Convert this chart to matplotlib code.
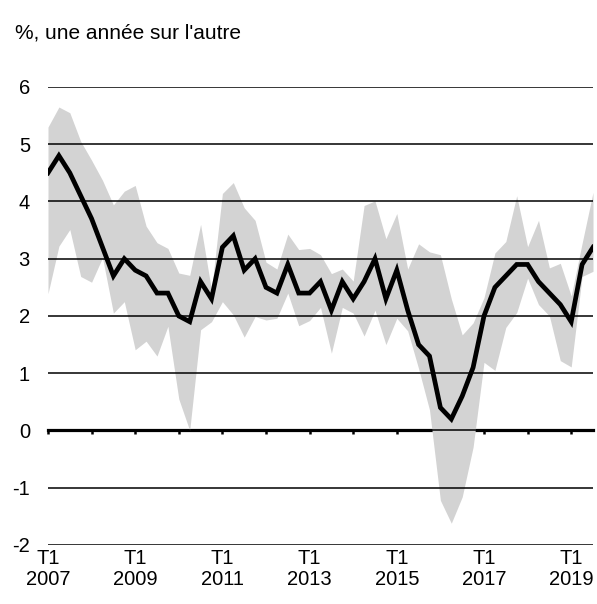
import matplotlib
matplotlib.use('Agg')
import matplotlib.pyplot as plt
import numpy as np

plt.rcParams['font.family'] = ['Liberation Sans', 'DejaVu Sans']
plt.rcParams['axes.unicode_minus'] = False

# quarterly, T1 2007 -> T3 2019, % une annee sur l'autre
inflation = [4.5, 4.8, 4.5, 4.1, 3.7, 3.2, 2.7, 3.0, 2.8, 2.7,
             2.4, 2.4, 2.0, 1.9, 2.6, 2.3, 3.2, 3.4, 2.8, 3.0,
             2.5, 2.4, 2.9, 2.4, 2.4, 2.6, 2.1, 2.6, 2.3, 2.6,
             3.0, 2.3, 2.8, 2.1, 1.5, 1.3, 0.4, 0.2, 0.6, 1.1,
             2.0, 2.5, 2.7, 2.9, 2.9, 2.6, 2.4, 2.2, 1.9, 2.9,
             3.2]

band_high = [5.3, 5.65, 5.55, 5.05, 4.72, 4.37, 3.94, 4.18, 4.28, 3.57,
             3.28, 3.18, 2.75, 2.71, 3.6, 2.45, 4.14, 4.33, 3.89, 3.67,
             2.94, 2.82, 3.43, 3.16, 3.18, 3.07, 2.74, 2.82, 2.61, 3.93,
             4.01, 3.35, 3.79, 2.82, 3.26, 3.12, 3.07, 2.3, 1.67, 1.88,
             2.32, 3.1, 3.3, 4.1, 3.21, 3.67, 2.84, 2.92, 2.35, 3.27,
             4.16]

band_low = [2.39, 3.22, 3.51, 2.69, 2.59, 3.02, 2.05, 2.25, 1.41, 1.56,
            1.30, 1.82, 0.55, 0.0, 1.76, 1.90, 2.25, 2.02, 1.63, 1.99,
            1.93, 1.96, 2.40, 1.83, 1.92, 2.15, 1.35, 2.15, 2.05, 1.65,
            2.10, 1.50, 1.96, 1.74, 1.08, 0.36, -1.22, -1.62, -1.16, -0.29,
            1.19, 1.05, 1.80, 2.06, 2.66, 2.20, 2.00, 1.22, 1.11, 2.69,
            2.78]

first_year = 2007
tick_years = list(range(2007, 2020))
label_years = [2007, 2009, 2011, 2013, 2015, 2017, 2019]

fig = plt.figure(figsize=(5.97, 6.04), dpi=100)
ax = fig.add_axes([0.0804, 0.0977, 0.9129, 0.7583])

x = np.arange(len(inflation))
ax.fill_between(x, band_low, band_high, color='#d3d3d3', lw=0, zorder=1)
ax.plot(x, inflation, color='black', lw=3.4, zorder=3, solid_joinstyle='miter')

ax.set_xlim(0, len(inflation) - 1)
ax.set_ylim(-2, 6)
ax.set_yticks(range(-2, 7))
ax.yaxis.grid(True, color='black', lw=1.1)
ax.set_axisbelow(False)
for s in ax.spines.values():
    s.set_visible(False)
ax.tick_params(axis='y', length=0, pad=13, labelsize=14.5)
ax.set_xticks([(y - first_year) * 4 for y in label_years])
ax.set_xticklabels(['T1\n%d' % y for y in label_years], linespacing=1.15)
ax.tick_params(axis='x', length=0, pad=3, labelsize=14.5)

# zero line with yearly ticks
zero = ax.secondary_xaxis(0, transform=ax.transData)
zero.set_xticks([(y - first_year) * 4 for y in tick_years], labels=[])
zero.tick_params(length=3, width=1.8, direction='out', color='black')
zero.spines['bottom'].set_linewidth(2.3)
zero.spines['bottom'].set_zorder(2.6)

fig.text(15 / 597, 1 - 33 / 604, "%, une année sur l'autre", fontsize=15,
         va='center', ha='left')

fig.savefig('out.png', dpi=100)
